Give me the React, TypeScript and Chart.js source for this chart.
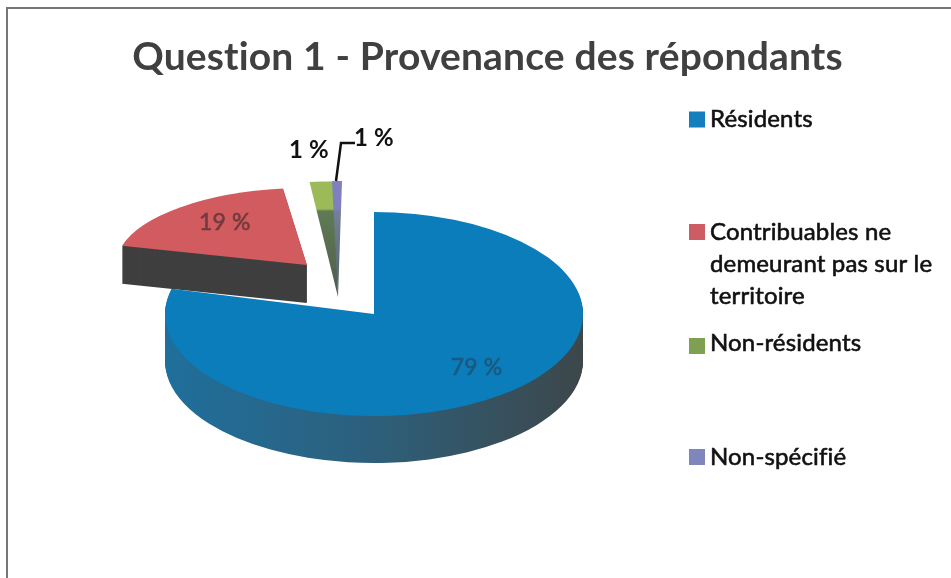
import React, { useEffect, useRef } from "react";
import { Chart, registerables } from "chart.js";

Chart.register(...registerables);

const titleText = "Question 1 - Provenance des répondants";
const categories = ["Résidents", "Contribuables ne demeurant pas sur le territoire", "Non-résidents", "Non-spécifié"];
const legendLines = [["Résidents"], ["Contribuables ne", "demeurant pas sur le", "territoire"], ["Non-résidents"], ["Non-spécifié"]];
const shares = [79, 19, 1, 1];
const sliceColors = ["#0c7dbb", "#d15b5f", "#9cbb58", "#8080c0"];
const legendColors = ["#1380bd", "#cd5c63", "#7f9f52", "#7f86bd"];

// Placement of each exploded slice: apex position, drawn radii, shear and wall depth.
const placement = [
  { x: 374, y: 314, rx: 209, ry: 102, shear: 0, depth: 47 },
  { x: 307, y: 265, rx: 191, ry: 77, shear: 0, depth: 38 },
  { x: 338, y: 297, rx: 398, ry: 116, shear: -21.6, depth: 0 },
  { x: 338, y: 297, rx: 159, ry: 116, shear: -4, depth: 0 },
];
const drawOrder = [1, 2, 3, 0];
const legendRows = [
  { box: 119.5, lines: [119] },
  { box: 232, lines: [232, 264.5, 296.5] },
  { box: 346, lines: [343.5] },
  { box: 457, lines: [457] },
];

const FONT = "Lato, 'Open Sans', sans-serif";

const pie3d = {
  id: "pie3d",
  beforeDraw(chart: any) {
    const { ctx } = chart;
    ctx.letterSpacing = "0.15px";
    ctx.save();
    ctx.fillStyle = "#ffffff";
    ctx.fillRect(0, 0, chart.width, chart.height);
    ctx.strokeStyle = "#777777";
    ctx.lineWidth = 2;
    ctx.beginPath();
    ctx.moveTo(7, chart.height);
    ctx.lineTo(7, 8);
    ctx.lineTo(chart.width, 8);
    ctx.stroke();
    ctx.restore();
  },
  beforeDatasetsDraw(chart: any) {
    const { ctx } = chart;
    const arcs = chart.getDatasetMeta(0).data;
    for (const i of drawOrder) {
      const arc = arcs[i];
      const p = placement[i];
      const R = arc.outerRadius;
      const original = arc.options;
      const place = (dy: number) => {
        ctx.translate(p.x, p.y + dy);
        ctx.transform(p.rx / R, 0, p.shear / R, p.ry / R, 0, 0);
        ctx.translate(-arc.x, -arc.y);
      };
      let side: any = null;
      if (i === 0) {
        side = ctx.createLinearGradient(arc.x - R, 0, arc.x + R, 0);
        side.addColorStop(0, "#1f6f9c");
        side.addColorStop(0.45, "#2c617f");
        side.addColorStop(1, "#3d474a");
      } else if (i === 1) {
        side = "#3f3f3f";
      }
      if (p.depth > 0) {
        arc.options = { ...original, backgroundColor: side, borderWidth: 0 };
        for (let d = p.depth; d > 0; d -= 1) {
          ctx.save();
          place(d);
          arc.draw(ctx);
          ctx.restore();
        }
      }
      ctx.save();
      place(0);
      if (i >= 2) {
        const g = ctx.createLinearGradient(0, arc.y - R, 0, arc.y);
        g.addColorStop(0, sliceColors[i]);
        g.addColorStop(0.24, sliceColors[i]);
        g.addColorStop(0.26, i === 2 ? "#5f7a55" : "#74809a");
        g.addColorStop(0.7, i === 2 ? "#56694f" : "#5f6f78");
        g.addColorStop(1, "#4a5a58");
        arc.options = { ...original, backgroundColor: g, borderWidth: 0 };
      } else {
        arc.options = original;
      }
      arc.draw(ctx);
      ctx.restore();
      arc.options = original;
    }
    return false;
  },
  afterDraw(chart: any) {
    const { ctx } = chart;
    const arcs = chart.getDatasetMeta(0).data;
    ctx.save();
    // legend
    ctx.textBaseline = "middle";
    ctx.textAlign = "left";
    ctx.font = `400 24px ${FONT}`;
    ctx.lineWidth = 0.6;
    legendRows.forEach((row, i) => {
      ctx.fillStyle = legendColors[i];
      ctx.fillRect(689, row.box - 8, 16, 16);
      ctx.fillStyle = "#111111";
      ctx.strokeStyle = "#111111";
      legendLines[i].forEach((line, j) => {
        ctx.fillText(line, 710, row.lines[j]);
        ctx.strokeText(line, 710, row.lines[j]);
      });
    });
    // inner data labels
    ctx.textAlign = "center";
    ctx.font = `400 23px ${FONT}`;
    const inner = [
      { i: 0, fx: 0.8, fy: 0.67, color: "#1a5a80" },
      { i: 1, fx: 0.65, fy: 0.727, color: "#743a3e" },
    ];
    inner.forEach(({ i, fx, fy, color }) => {
      const arc = arcs[i];
      const mid = (arc.startAngle + arc.endAngle) / 2;
      const p = placement[i];
      const lx = p.x + Math.cos(mid) * fx * p.rx;
      const ly = p.y + Math.sin(mid) * fy * p.ry;
      ctx.fillStyle = color;
      ctx.strokeStyle = color;
      ctx.fillText(`${shares[i]} %`, lx, ly);
      ctx.strokeText(`${shares[i]} %`, lx, ly);
    });
    // outer labels and leader
    ctx.fillStyle = "#111111";
    ctx.font = `700 24px ${FONT}`;
    ctx.fillText(`${shares[2]} %`, 309, 150);
    ctx.fillText(`${shares[3]} %`, 374, 138);
    ctx.strokeStyle = "#111111";
    ctx.lineWidth = 2.5;
    ctx.beginPath();
    ctx.moveTo(336, 181);
    ctx.lineTo(341, 143);
    ctx.lineTo(355, 143);
    ctx.stroke();
    ctx.restore();
  },
};

export default function App() {
  const ref = useRef<HTMLCanvasElement>(null);
  useEffect(() => {
    const chart = new Chart(ref.current as HTMLCanvasElement, {
      type: "pie",
      data: {
        labels: categories,
        datasets: [{ data: shares, backgroundColor: sliceColors, borderWidth: 0 }],
      },
      options: {
        animation: false,
        responsive: false,
        layout: { padding: { left: 24 } },
        plugins: {
          legend: { display: false },
          tooltip: { enabled: false },
          title: {
            display: true,
            text: titleText,
            color: "#404040",
            font: { family: FONT, size: 39, weight: "bold" },
            padding: { top: 34, bottom: 10 },
          },
        },
      },
      plugins: [pie3d],
    } as any);
    return () => chart.destroy();
  }, []);
  return (
    <div style={{ position: "absolute", left: 0, top: 0 }}>
      <canvas ref={ref} width={951} height={578} style={{ display: "block", filter: "blur(0.5px)" }} />
    </div>
  );
}
